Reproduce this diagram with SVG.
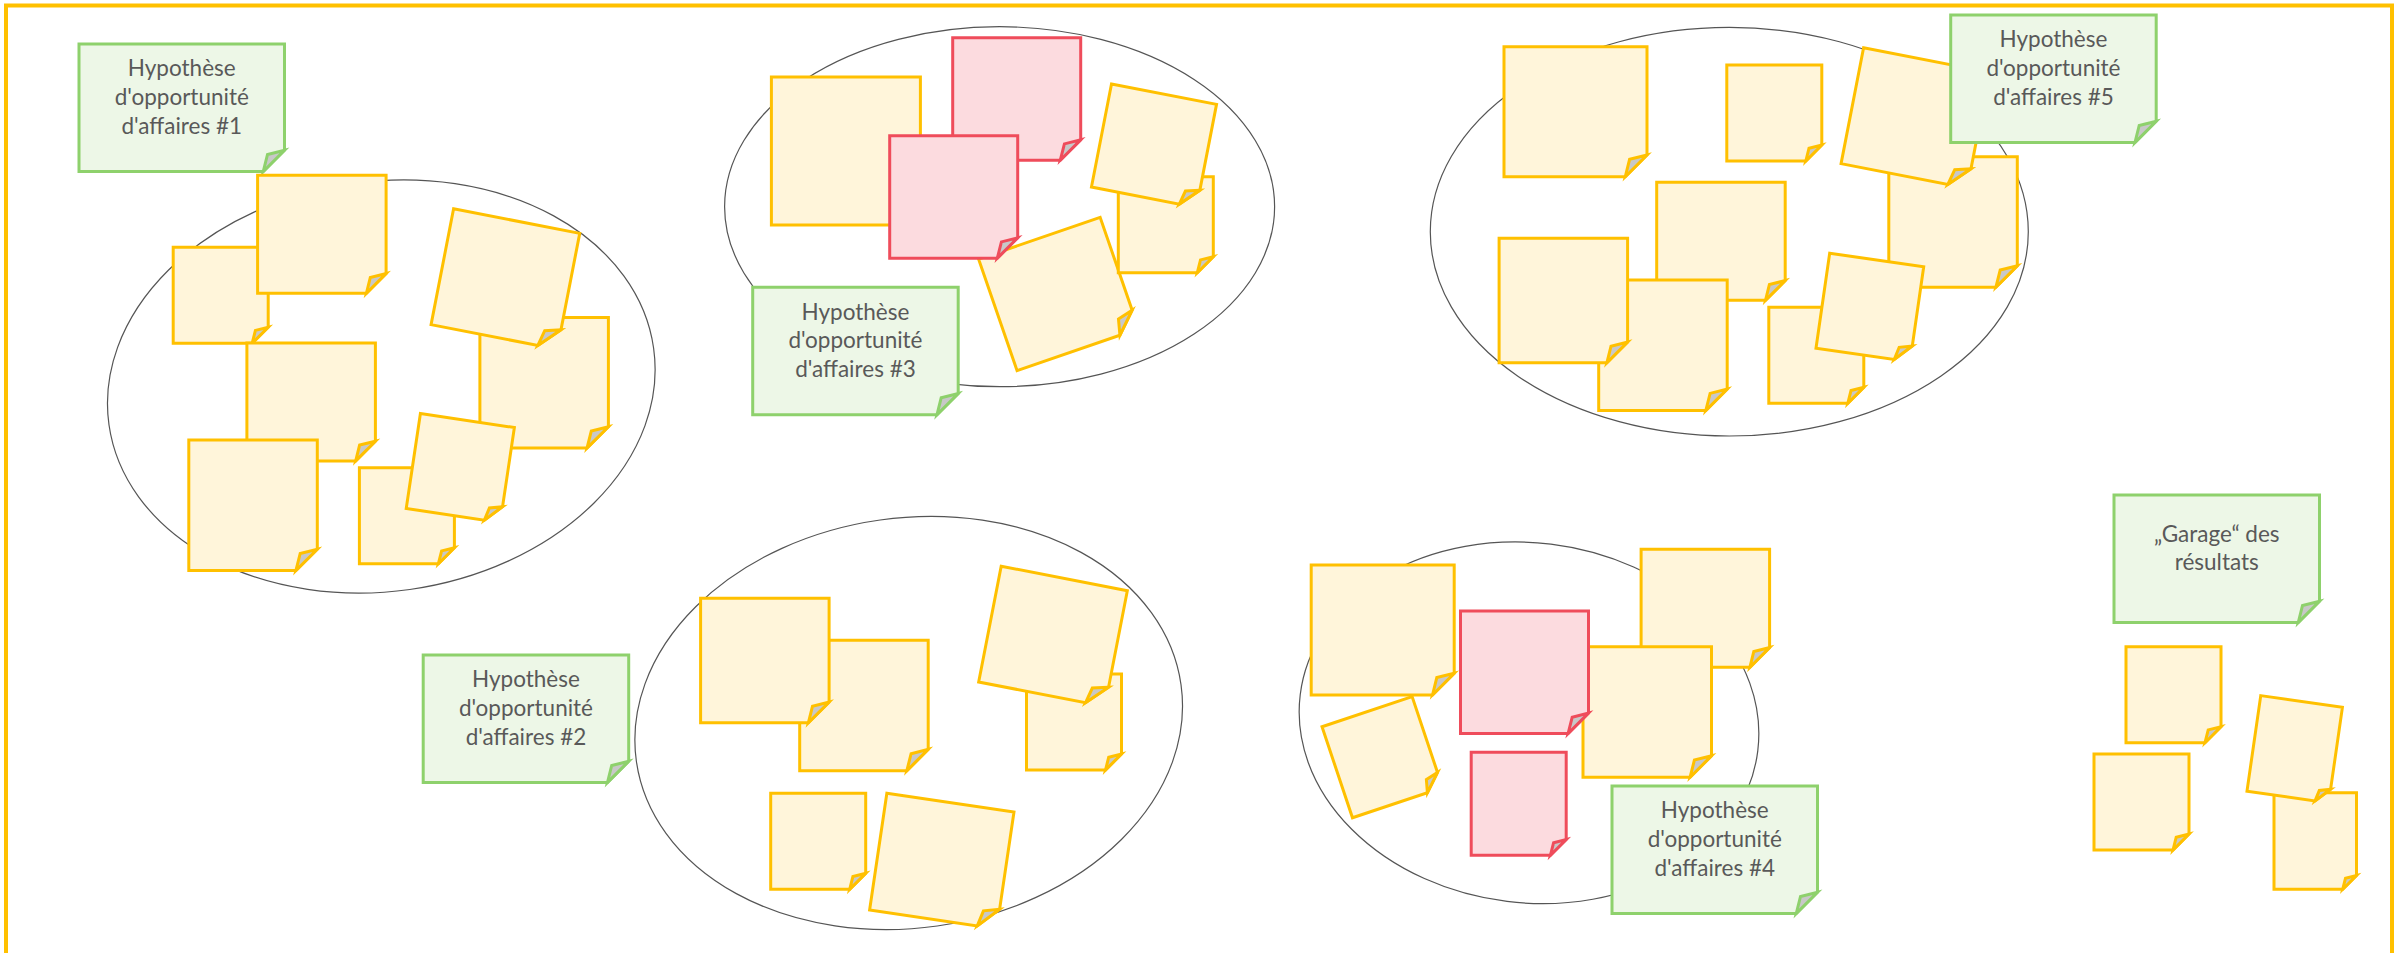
<svg xmlns="http://www.w3.org/2000/svg" width="2402" height="953" viewBox="0 0 2402 953">
<style>
.y{fill:#FFF5DA;stroke:#FFC000}
.p{fill:#FCDBDF;stroke:#EF4C5B}
.g{fill:#EDF7E7;stroke:#8ED16C}
.note{stroke-width:3;stroke-linejoin:miter}
.fold{fill:#C8C8C8}
.ell{fill:none;stroke:#555555;stroke-width:1.2}
.t{font-family:Lato,"Liberation Sans",sans-serif;font-size:22.5px;fill:#595959;text-anchor:middle}
.frame{fill:none;stroke:#FFC000;stroke-width:4}
</style>
<defs>
<g id="S"><path d="M0,0H95V80L79,96H0Z"/><path class="fold" d="M79,96L82.2,83.2L95,80Z"/></g>
<g id="M"><path d="M0,0H128.5V98.3L108.8,118H0Z"/><path class="fold" d="M108.8,118L112.7,102.2L128.5,98.3Z"/></g>
<g id="L"><path d="M0,0H128.5V109.1L107.1,130.5H0Z"/><path class="fold" d="M107.1,130.5L111.4,113.4L128.5,109.1Z"/></g>
<g id="K"><path d="M0,0H128.5V103.75L107.75,124.5H0Z"/><path class="fold" d="M107.75,124.5L111.9,107.9L128.5,103.75Z"/></g>
<g id="W"><path d="M0,0H143V108.3L121.3,130H0Z"/><path class="fold" d="M121.3,130L125.6,112.6L143,108.3Z"/></g>
<g id="G"><path d="M0,0H205.5V106.25L184.25,127.5H0Z"/><path class="fold" d="M184.25,127.5L188.5,110.5L205.5,106.25Z"/></g>
<g id="P"><path d="M0,0H128V102.1L107.6,122.5H0Z"/><path class="fold" d="M107.6,122.5L111.7,106.2L128,102.1Z"/></g>
<g id="A"><path d="M0,0H149V123.3L124.3,148H0Z"/><path class="fold" d="M124.3,148L129.2,128.2L149,123.3Z"/></g>
<g id="F"><path d="M0,0H107V87.5L89.5,105H0Z"/><path class="fold" d="M89.5,105L93,91L107,87.5Z"/></g>
<g id="Q"><path d="M0,0H95V87.2L79.2,103H0Z"/><path class="fold" d="M79.2,103L82.4,90.4L95,87.2Z"/></g>
<g id="N"><path d="M0,0H82.5V82.75L68.75,96.5H0Z"/><path class="fold" d="M68.75,96.5L71.5,85.5L82.5,82.75Z"/></g>
</defs>

<rect id="frame" class="frame" x="6" y="5.5" width="2386" height="1000"/>

<g id="connectors"></g>

<!-- Cluster 1 -->
<g id="cluster1">
<ellipse id="ellipse1" class="ell" cx="381.3" cy="386.5" rx="275" ry="205" transform="rotate(-8 381.3 386.5)"/>
<g id="label1"><use href="#G" class="note g" x="79" y="44"/>
<text class="t" x="181.75" y="76.3">Hypothèse</text>
<text class="t" x="181.75" y="105">d'opportunité</text>
<text class="t" x="181.75" y="133.5">d'affaires #1</text></g>
<g id="n1a"><use href="#S" class="note y" x="173.2" y="247.2"/></g>
<g id="n1b"><use href="#M" class="note y" x="257.6" y="175.3"/></g>
<g id="n1c"><use href="#M" class="note y" x="246.9" y="342.9"/></g>
<g id="n1d"><use href="#L" class="note y" x="188.8" y="440.1"/></g>
<g id="n1e"><use href="#S" class="note y" x="359.4" y="467.7"/></g>
<g id="n1g"><use href="#L" class="note y" x="479.9" y="317.6"/></g>
<g id="n1f"><use href="#S" class="note y" transform="translate(460.3 468) rotate(8.5) translate(-47.5 -48)"/></g>
<g id="n1h"><use href="#M" class="note y" transform="translate(505.4 279) rotate(11) translate(-64.25 -59)"/></g>
</g>

<!-- Cluster 3 -->
<g id="cluster3">
<ellipse id="ellipse3" class="ell" cx="999.6" cy="206.7" rx="275" ry="180"/>
<g id="n3a"><use href="#A" class="note y" x="771.4" y="77"/></g>
<g id="n3b"><use href="#P" class="note p" x="952.7" y="37.7"/></g>
<g id="n3d"><use href="#M" class="note y" transform="translate(1058.6 294) rotate(-19) translate(-64.25 -59)"/></g>
<g id="n3c"><use href="#P" class="note p" x="889.7" y="135.7"/></g>
<g id="n3e"><use href="#S" class="note y" x="1118.3" y="176.7"/></g>
<g id="n3f"><use href="#F" class="note y" transform="translate(1154 145.7) rotate(11) translate(-53.5 -52.5)"/></g>
<g id="label3"><use href="#G" class="note g" x="752.7" y="287.3"/>
<text class="t" x="855.45" y="319.6">Hypothèse</text>
<text class="t" x="855.45" y="348.3">d'opportunité</text>
<text class="t" x="855.45" y="376.8">d'affaires #3</text></g>
</g>

<!-- Cluster 5 -->
<g id="cluster5">
<ellipse id="ellipse5" class="ell" cx="1729.3" cy="231.7" rx="299" ry="204.3"/>
<g id="n5a"><use href="#W" class="note y" x="1504" y="46.7"/></g>
<g id="n5b"><use href="#S" class="note y" x="1726.8" y="65"/></g>
<g id="n5e"><use href="#M" class="note y" x="1656.7" y="182.3"/></g>
<g id="n5g"><use href="#L" class="note y" x="1598.7" y="280"/></g>
<g id="n5f"><use href="#K" class="note y" x="1499.1" y="238.3"/></g>
<g id="n5d"><use href="#L" class="note y" x="1888.8" y="156.7"/></g>
<g id="n5h"><use href="#S" class="note y" x="1768.8" y="307.3"/></g>
<g id="n5i"><use href="#S" class="note y" transform="translate(1869.85 307.5) rotate(8.2) translate(-47.5 -48)"/></g>
<g id="n5c"><use href="#M" class="note y" transform="translate(1915.4 118) rotate(11) translate(-64.25 -59)"/></g>
<g id="label5"><use href="#G" class="note g" x="1950.7" y="15"/>
<text class="t" x="2053.45" y="47.3">Hypothèse</text>
<text class="t" x="2053.45" y="76">d'opportunité</text>
<text class="t" x="2053.45" y="104.5">d'affaires #5</text></g>
</g>

<!-- Cluster 2 -->
<g id="cluster2">
<ellipse id="ellipse2" class="ell" cx="908.7" cy="723" rx="275" ry="205" transform="rotate(-8 908.7 723)"/>
<g id="n2b"><use href="#L" class="note y" x="799.7" y="640.3"/></g>
<g id="n2a"><use href="#K" class="note y" x="700.6" y="598.3"/></g>
<g id="n2d"><use href="#S" class="note y" x="1026.5" y="674"/></g>
<g id="n2c"><use href="#M" class="note y" transform="translate(1053 636.35) rotate(11) translate(-64.25 -59)"/></g>
<g id="n2e"><use href="#S" class="note y" x="770.7" y="793.3"/></g>
<g id="n2f"><use href="#M" class="note y" transform="translate(941.8 861) rotate(8.4) translate(-64.25 -59)"/></g>
<g id="label2"><use href="#G" class="note g" x="423.2" y="655"/>
<text class="t" x="525.95" y="687.3">Hypothèse</text>
<text class="t" x="525.95" y="716">d'opportunité</text>
<text class="t" x="525.95" y="744.5">d'affaires #2</text></g>
</g>

<!-- Cluster 4 -->
<g id="cluster4">
<ellipse id="ellipse4" class="ell" cx="1529" cy="722.8" rx="230.5" ry="180" transform="rotate(7 1529 722.8)"/>
<g id="n4a"><use href="#W" class="note y" x="1311.2" y="565"/></g>
<g id="n4b"><use href="#S" class="note y" transform="translate(1382.3 757.2) rotate(-18.5) translate(-47.5 -48)"/></g>
<g id="n4e"><use href="#M" class="note y" x="1641.1" y="549.3"/></g>
<g id="n4d"><use href="#L" class="note y" x="1583" y="646.7"/></g>
<g id="n4c"><use href="#P" class="note p" x="1460.5" y="611"/></g>
<g id="n4f"><use href="#Q" class="note p" x="1471.2" y="752.3"/></g>
<g id="label4"><use href="#G" class="note g" x="1612" y="786"/>
<text class="t" x="1714.75" y="818.3">Hypothèse</text>
<text class="t" x="1714.75" y="847">d'opportunité</text>
<text class="t" x="1714.75" y="875.5">d'affaires #4</text></g>
</g>

<!-- Garage -->
<g id="garage">
<g id="labelGarage"><use href="#G" class="note g" x="2114" y="495"/>
<text class="t" x="2216.75" y="541.7">„Garage“ des</text>
<text class="t" x="2216.75" y="569.8">résultats</text></g>
<g id="ga"><use href="#S" class="note y" x="2126" y="646.7"/></g>
<g id="gb"><use href="#S" class="note y" x="2094" y="754"/></g>
<g id="gd"><use href="#N" class="note y" x="2274" y="792.7"/></g>
<g id="gc"><use href="#N" class="note y" transform="translate(2294.7 749.25) rotate(8.2) translate(-41.25 -48.25)"/></g>
</g>
</svg>
